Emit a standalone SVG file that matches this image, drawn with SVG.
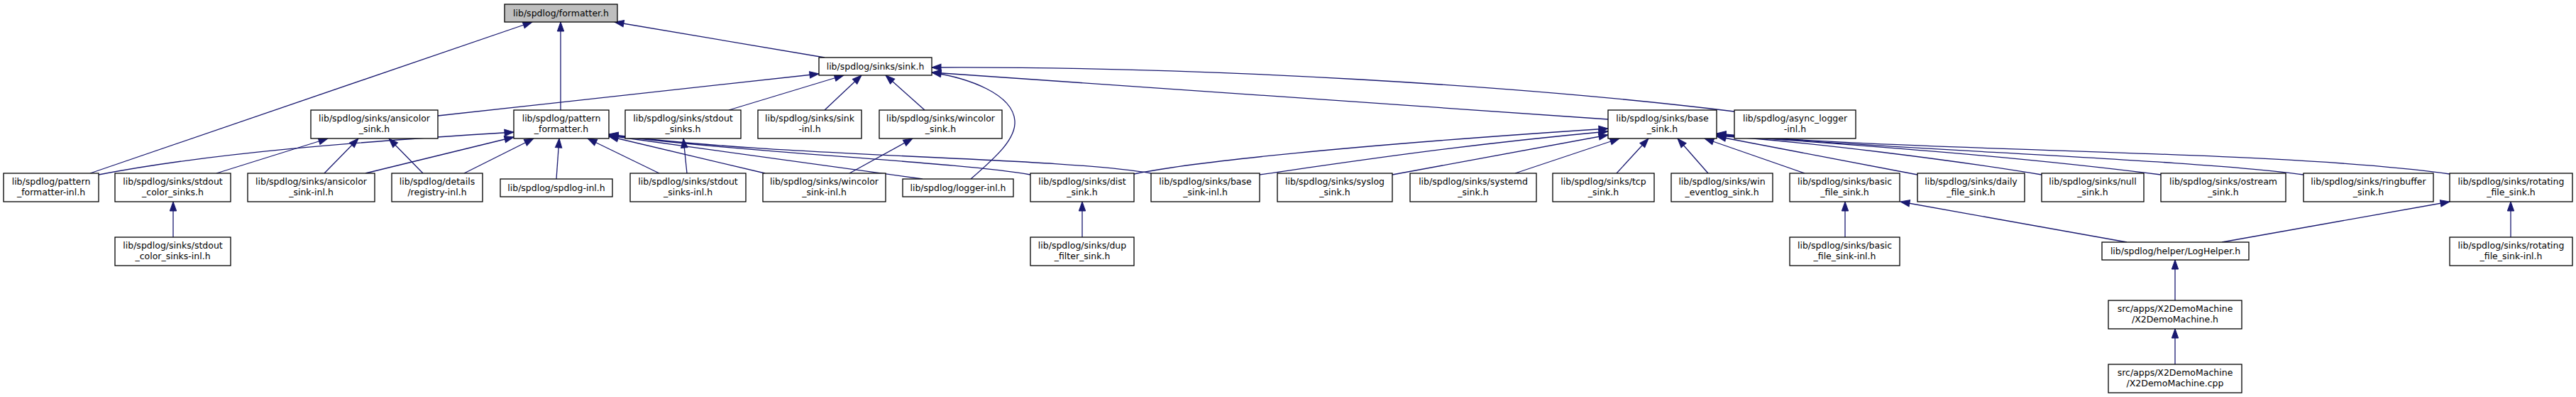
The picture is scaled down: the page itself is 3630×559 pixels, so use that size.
<svg xmlns="http://www.w3.org/2000/svg" width="3630" height="559" viewBox="0 0 3630 559">
<style>
.node rect{fill:#ffffff;stroke:#000000;stroke-width:1.3}
.node.root rect{fill:#bfbfbf}
.node text{font-family:"DejaVu Sans","Liberation Sans",sans-serif;font-size:12.5px;fill:#000000;text-anchor:middle}
.edges path{fill:none;stroke:#191970;stroke-width:1.3;marker-end:url(#arr)}
</style>
<defs>
<marker id="arr" markerUnits="userSpaceOnUse" markerWidth="14" markerHeight="11" refX="13" refY="5" orient="auto" overflow="visible">
<path d="M0,0.3 L13,5 L0,9.7 z" fill="#191970" stroke="#191970" stroke-width="1"/>
</marker>
</defs>
<rect x="0" y="0" width="3630" height="559" fill="#ffffff"/>
<g class="edges" id="edges">
<path d="M127,244 L750,31"/>
<path d="M790,155 L790,31"/>
<path d="M1162,81 L866,31"/>
<path d="M617,163 L1154,104"/>
<path d="M1027,155 L1189,106"/>
<path d="M1162,155 L1214,106"/>
<path d="M1303,155 L1248,106"/>
<path d="M1368,252 C1405,220 1432,195 1430,170 C1427,132 1365,110 1313,102"/>
<path d="M2266,168 L1313,102"/>
<path d="M2444,157 C2150,121 1700,93 1313,95"/>
<path d="M139,246 C300,215 500,200 724,186"/>
<path d="M515,244 L724,193"/>
<path d="M654,244 L752,195"/>
<path d="M784,252 L788,195"/>
<path d="M929,244 L828,195"/>
<path d="M1078,244 L858,192"/>
<path d="M1300,252 L858,191"/>
<path d="M1452,246 C1350,228 1050,215 858,190"/>
<path d="M1622,244 C1480,220 1100,222 858,189"/>
<path d="M305,244 L462,195"/>
<path d="M457,244 L505,195"/>
<path d="M596,244 L548,195"/>
<path d="M244,334 L244,284"/>
<path d="M968,244 L963,195"/>
<path d="M1197,244 L1286,195"/>
<path d="M1525,334 L1525,284"/>
<path d="M1598,245 C1680,228 1900,205 2266,181"/>
<path d="M1775,246 C1900,228 2050,205 2266,185"/>
<path d="M1962,246 L2266,190"/>
<path d="M2135,244 L2282,195"/>
<path d="M2278,244 L2323,195"/>
<path d="M2407,244 L2364,195"/>
<path d="M2543,244 L2402,195"/>
<path d="M2702,246 L2419,192"/>
<path d="M2877,246 C2750,225 2550,200 2419,191"/>
<path d="M3045,246 C2800,215 2550,200 2419,190"/>
<path d="M3246,246 C3100,225 2650,210 2419,189"/>
<path d="M3452,245 C3200,210 2700,215 2419,188"/>
<path d="M2600,334 L2600,284"/>
<path d="M2997,341 L2678,284"/>
<path d="M3131,341 L3452,284"/>
<path d="M3538,334 L3538,284"/>
<path d="M3065,423 L3065,366"/>
<path d="M3065,513 L3065,463"/>
</g>
<g class="node root" id="formatter_h"><rect x="711" y="6" width="159" height="25"/><text x="790.5" y="22.5">lib/spdlog/formatter.h</text></g>
<g class="node" id="sink_h"><rect x="1154" y="81" width="159" height="25"/><text x="1233.5" y="97.5">lib/spdlog/sinks/sink.h</text></g>
<g class="node" id="ansicolor_sink_h"><rect x="438" y="155" width="179" height="40"/><text x="527.5" y="171">lib/spdlog/sinks/ansicolor</text><text x="527.5" y="186">_sink.h</text></g>
<g class="node" id="pattern_formatter_h"><rect x="724" y="155" width="134" height="40"/><text x="791" y="171">lib/spdlog/pattern</text><text x="791" y="186">_formatter.h</text></g>
<g class="node" id="stdout_sinks_h"><rect x="881" y="155" width="163" height="40"/><text x="962.5" y="171">lib/spdlog/sinks/stdout</text><text x="962.5" y="186">_sinks.h</text></g>
<g class="node" id="sink_inl_h"><rect x="1068" y="155" width="146" height="40"/><text x="1141" y="171">lib/spdlog/sinks/sink</text><text x="1141" y="186">-inl.h</text></g>
<g class="node" id="wincolor_sink_h"><rect x="1239" y="155" width="173" height="40"/><text x="1325.5" y="171">lib/spdlog/sinks/wincolor</text><text x="1325.5" y="186">_sink.h</text></g>
<g class="node" id="base_sink_h"><rect x="2266" y="155" width="153" height="40"/><text x="2342.5" y="171">lib/spdlog/sinks/base</text><text x="2342.5" y="186">_sink.h</text></g>
<g class="node" id="async_logger_inl_h"><rect x="2444" y="155" width="171" height="40"/><text x="2529.5" y="171">lib/spdlog/async_logger</text><text x="2529.5" y="186">-inl.h</text></g>
<g class="node" id="pattern_formatter_inl_h"><rect x="5" y="244" width="134" height="40"/><text x="72" y="260">lib/spdlog/pattern</text><text x="72" y="275">_formatter-inl.h</text></g>
<g class="node" id="stdout_color_sinks_h"><rect x="162" y="244" width="163" height="40"/><text x="243.5" y="260">lib/spdlog/sinks/stdout</text><text x="243.5" y="275">_color_sinks.h</text></g>
<g class="node" id="ansicolor_sink_inl_h"><rect x="349" y="244" width="179" height="40"/><text x="438.5" y="260">lib/spdlog/sinks/ansicolor</text><text x="438.5" y="275">_sink-inl.h</text></g>
<g class="node" id="registry_inl_h"><rect x="552" y="244" width="128" height="40"/><text x="616" y="260">lib/spdlog/details</text><text x="616" y="275">/registry-inl.h</text></g>
<g class="node" id="spdlog_inl_h"><rect x="705" y="252" width="158" height="25"/><text x="784" y="268.5">lib/spdlog/spdlog-inl.h</text></g>
<g class="node" id="stdout_sinks_inl_h"><rect x="888" y="244" width="163" height="40"/><text x="969.5" y="260">lib/spdlog/sinks/stdout</text><text x="969.5" y="275">_sinks-inl.h</text></g>
<g class="node" id="wincolor_sink_inl_h"><rect x="1075" y="244" width="173" height="40"/><text x="1161.5" y="260">lib/spdlog/sinks/wincolor</text><text x="1161.5" y="275">_sink-inl.h</text></g>
<g class="node" id="logger_inl_h"><rect x="1272" y="252" width="156" height="25"/><text x="1350" y="268.5">lib/spdlog/logger-inl.h</text></g>
<g class="node" id="dist_sink_h"><rect x="1452" y="244" width="146" height="40"/><text x="1525" y="260">lib/spdlog/sinks/dist</text><text x="1525" y="275">_sink.h</text></g>
<g class="node" id="base_sink_inl_h"><rect x="1622" y="244" width="153" height="40"/><text x="1698.5" y="260">lib/spdlog/sinks/base</text><text x="1698.5" y="275">_sink-inl.h</text></g>
<g class="node" id="syslog_sink_h"><rect x="1800" y="244" width="162" height="40"/><text x="1881" y="260">lib/spdlog/sinks/syslog</text><text x="1881" y="275">_sink.h</text></g>
<g class="node" id="systemd_sink_h"><rect x="1987" y="244" width="178" height="40"/><text x="2076" y="260">lib/spdlog/sinks/systemd</text><text x="2076" y="275">_sink.h</text></g>
<g class="node" id="tcp_sink_h"><rect x="2188" y="244" width="143" height="40"/><text x="2259.5" y="260">lib/spdlog/sinks/tcp</text><text x="2259.5" y="275">_sink.h</text></g>
<g class="node" id="win_eventlog_sink_h"><rect x="2355" y="244" width="143" height="40"/><text x="2426.5" y="260">lib/spdlog/sinks/win</text><text x="2426.5" y="275">_eventlog_sink.h</text></g>
<g class="node" id="basic_file_sink_h"><rect x="2522" y="244" width="155" height="40"/><text x="2599.5" y="260">lib/spdlog/sinks/basic</text><text x="2599.5" y="275">_file_sink.h</text></g>
<g class="node" id="daily_file_sink_h"><rect x="2702" y="244" width="151" height="40"/><text x="2777.5" y="260">lib/spdlog/sinks/daily</text><text x="2777.5" y="275">_file_sink.h</text></g>
<g class="node" id="null_sink_h"><rect x="2877" y="244" width="144" height="40"/><text x="2949" y="260">lib/spdlog/sinks/null</text><text x="2949" y="275">_sink.h</text></g>
<g class="node" id="ostream_sink_h"><rect x="3045" y="244" width="176" height="40"/><text x="3133" y="260">lib/spdlog/sinks/ostream</text><text x="3133" y="275">_sink.h</text></g>
<g class="node" id="ringbuffer_sink_h"><rect x="3246" y="244" width="183" height="40"/><text x="3337.5" y="260">lib/spdlog/sinks/ringbuffer</text><text x="3337.5" y="275">_sink.h</text></g>
<g class="node" id="rotating_file_sink_h"><rect x="3452" y="244" width="173" height="40"/><text x="3538.5" y="260">lib/spdlog/sinks/rotating</text><text x="3538.5" y="275">_file_sink.h</text></g>
<g class="node" id="stdout_color_sinks_inl_h"><rect x="162" y="334" width="163" height="40"/><text x="243.5" y="350">lib/spdlog/sinks/stdout</text><text x="243.5" y="365">_color_sinks-inl.h</text></g>
<g class="node" id="dup_filter_sink_h"><rect x="1452" y="334" width="146" height="40"/><text x="1525" y="350">lib/spdlog/sinks/dup</text><text x="1525" y="365">_filter_sink.h</text></g>
<g class="node" id="basic_file_sink_inl_h"><rect x="2522" y="334" width="155" height="40"/><text x="2599.5" y="350">lib/spdlog/sinks/basic</text><text x="2599.5" y="365">_file_sink-inl.h</text></g>
<g class="node" id="rotating_file_sink_inl_h"><rect x="3452" y="334" width="173" height="40"/><text x="3538.5" y="350">lib/spdlog/sinks/rotating</text><text x="3538.5" y="365">_file_sink-inl.h</text></g>
<g class="node" id="LogHelper_h"><rect x="2962" y="341" width="207" height="25"/><text x="3065.5" y="357.5">lib/spdlog/helper/LogHelper.h</text></g>
<g class="node" id="X2DemoMachine_h"><rect x="2971" y="423" width="188" height="40"/><text x="3065" y="439">src/apps/X2DemoMachine</text><text x="3065" y="454">/X2DemoMachine.h</text></g>
<g class="node" id="X2DemoMachine_cpp"><rect x="2971" y="513" width="188" height="40"/><text x="3065" y="529">src/apps/X2DemoMachine</text><text x="3065" y="544">/X2DemoMachine.cpp</text></g>
</svg>
